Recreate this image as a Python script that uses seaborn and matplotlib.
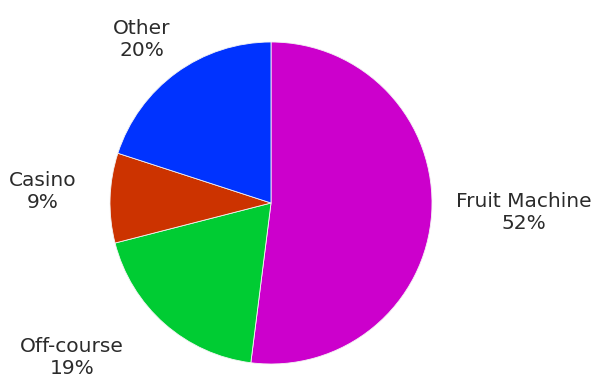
import matplotlib
matplotlib.use("Agg")
import matplotlib.pyplot as plt
import seaborn as sns
import numpy as np

categories = ["Fruit Machine", "Off-course", "Casino", "Other"]
shares = [52, 19, 9, 20]
colors = ["#CC00CC", "#00CC33", "#CC3300", "#0033FF"]

sns.set_theme(style="white")
plt.rcParams['font.family'] = ['DejaVu Sans']

W, H = 599, 378
cx, cy, R = 271, 203, 161
fig = plt.figure(figsize=(W / 100, H / 100), dpi=100)
ax = fig.add_axes([0, 0, 1, 1])

wedges, _ = ax.pie(shares, colors=colors, startangle=90, counterclock=False,
                   radius=1.0, wedgeprops=dict(linewidth=0.6, edgecolor="#f4f4f4"))

ax.set_aspect('auto')
ax.set_xlim(-cx / R, (W - cx) / R)
ax.set_ylim(-(H - cy) / R, cy / R)
ax.axis('off')

# label distances (in radii) and small angle tweaks, per wedge
label_dist = [1.573, 1.567, 1.418, 1.296]
angle_shift = [1.34, -10.7, -1.2, 2.2]
for w, name, s, d, da in zip(wedges, categories, shares, label_dist, angle_shift):
    mid = np.deg2rad((w.theta1 + w.theta2) / 2 + da)
    ax.text(d * np.cos(mid), d * np.sin(mid), f"{name}\n{s}%",
            ha="center", va="center", fontsize=14.5, color="#2b2b2b",
            linespacing=1.2)

fig.savefig("out.png", dpi=100)
